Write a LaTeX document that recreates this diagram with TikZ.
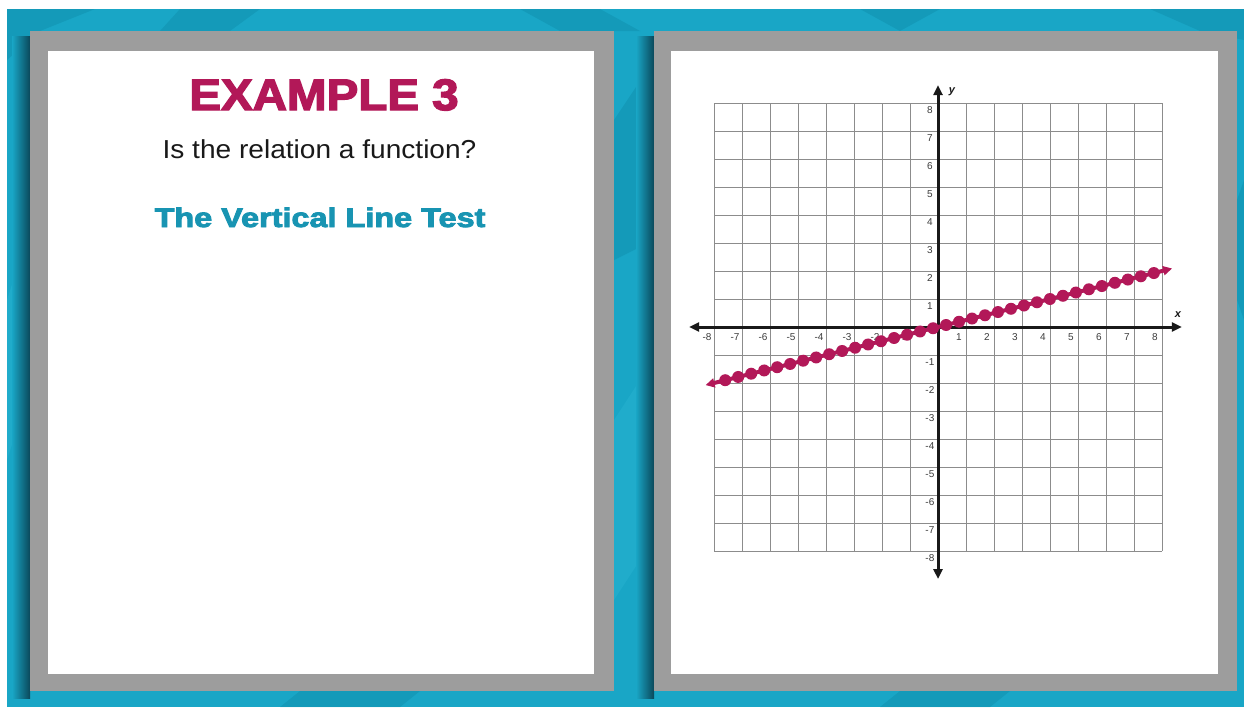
\documentclass[tikz,border=0pt]{standalone}
\usepackage{fontspec}
\setmainfont{Liberation Sans}
\newfontfamily\heavyfont[FakeBold=3]{Liberation Sans Bold}
\usetikzlibrary{arrows.meta}
\definecolor{bgteal}{RGB}{25,166,198}
\definecolor{bgdark}{RGB}{14,140,170}
\definecolor{bglight}{RGB}{40,178,208}
\definecolor{shadowc}{RGB}{10,72,90}
\definecolor{framec}{RGB}{157,157,157}
\definecolor{magentac}{RGB}{178,24,88}
\definecolor{tealtext}{RGB}{24,148,178}
\definecolor{gridc}{RGB}{140,140,140}
\definecolor{axisc}{RGB}{25,25,25}
\definecolor{labelc}{RGB}{60,60,60}
\tikzset{
  panelframe/.style={fill=framec},
  panelface/.style={fill=white},
  gridline/.style={draw=gridc, line width=1pt},
  axisline/.style={draw=axisc, line width=3pt, {Triangle[length=10pt,width=9pt]}-{Triangle[length=10pt,width=9pt]}},
  ticklabel/.style={text=labelc, font=\fontsize{10}{10}\selectfont, inner sep=0pt},
  axislabel/.style={text=axisc, font=\bfseries\itshape\fontsize{11}{11}\selectfont, inner sep=0pt},
  plotline/.style={draw=magentac, line width=4pt, {Triangle[length=9pt,width=9pt]}-{Triangle[length=9pt,width=9pt]}},
  plotdot/.style={fill=magentac},
  bgshape/.style={fill=bgdark, opacity=0.45}
}
\begin{document}
\begin{tikzpicture}[x=1pt,y=-1pt]
\useasboundingbox (0,0) rectangle (1244,707);
\fill[white] (0,0) rectangle (1244,707);
\fill[bgteal] (7,9) rectangle (1244,707);
% faint background pattern
\begin{scope}
\clip (7,9) rectangle (1244,707);
\fill[bgshape] (7,9) -- (95,9) -- (40,31) -- (7,60) -- cycle;
\fill[bgshape] (180,9) -- (260,9) -- (230,31) -- (160,31) -- cycle;
\fill[bgshape] (520,9) -- (600,9) -- (640,31) -- (560,31) -- cycle;
\fill[bgshape] (614,120) -- (654,60) -- (654,240) -- (614,260) -- cycle;
\fill[bgshape] (860,9) -- (940,9) -- (900,31) -- cycle;
\fill[bgshape] (1150,9) -- (1244,9) -- (1244,40) -- (1200,31) -- cycle;
\fill[bgshape] (1237,200) -- (1244,180) -- (1244,320) -- (1237,300) -- cycle;
\fill[bglight, opacity=0.5] (7,300) -- (20,260) -- (20,420) -- (7,460) -- cycle;
\fill[bglight, opacity=0.5] (614,420) -- (640,380) -- (640,560) -- (614,600) -- cycle;
\fill[bgshape] (300,691) -- (420,691) -- (400,707) -- (280,707) -- cycle;
\fill[bgshape] (900,691) -- (1010,691) -- (990,707) -- (880,707) -- cycle;
\end{scope}
% shadows
\shade[left color=bgteal, right color=shadowc] (12,36) rectangle (30,698);
\shade[left color=bgteal, right color=shadowc] (636,36) rectangle (654,698);
% panels
\fill[panelframe] (30,31) rectangle (614,691);
\fill[panelface] (48,51) rectangle (594,674);
\fill[panelframe] (654,31) rectangle (1237,691);
\fill[panelface] (671,51) rectangle (1218,674);
% left texts
\node[anchor=base, text=magentac, inner sep=0pt, font=\heavyfont\fontsize{44}{48}\selectfont] (title) at (324,110) {\scalebox{1.08}[1]{EXAMPLE 3}};
\node[anchor=base, text=black!90, inner sep=0pt, font=\fontsize{26}{30}\selectfont] (question) at (319.5,158) {\scalebox{1.08}[1]{Is the relation a function?}};
\node[anchor=base, text=tealtext, inner sep=0pt, font=\heavyfont\fontsize{27}{30}\selectfont] (vlt) at (320,227) {\scalebox{1.2}[1]{The Vertical Line Test}};
% graph
\begin{scope}[shift={(938pt,-327pt)}, x=28pt, y=28pt]
\foreach \g in {-8,...,8} {
  \draw[gridline] (\g,-8) -- (\g,8);
  \draw[gridline] (-8,\g) -- (8,\g);
}
\coordinate (xl) at (-8.89,0);
\coordinate (xr) at (8.71,0);
\coordinate (yb) at (0,-9.0);
\coordinate (yt) at (0,8.64);
\draw[axisline] (xl) -- (xr);
\draw[axisline] (yb) -- (yt);
\foreach \k in {-8,...,-1} {
  \node[ticklabel] (xt\k) at (\k-0.25,-0.36) {\k};
  \node[ticklabel] (yt\k) at (-0.29,\k-0.25) {\k};
}
\foreach \k in {1,...,8} {
  \node[ticklabel] (xtp\k) at (\k-0.25,-0.36) {\k};
  \node[ticklabel] (ytp\k) at (-0.29,\k-0.25) {\k};
}
\node[axislabel] (xlab) at (8.57,0.43) {x};
\node[axislabel] (ylab) at (0.5,8.39) {y};
\coordinate (la) at (-8.3,-2.075);
\coordinate (lb) at (8.36,2.09);
\draw[plotline] (la) -- (lb);
\foreach \i in {0,...,33} {
  \pgfmathsetmacro{\uu}{-7.6+\i*0.4639}
  \fill[plotdot] (\uu,\uu/4) circle (6pt);
}
\end{scope}
\end{tikzpicture}
\end{document}
